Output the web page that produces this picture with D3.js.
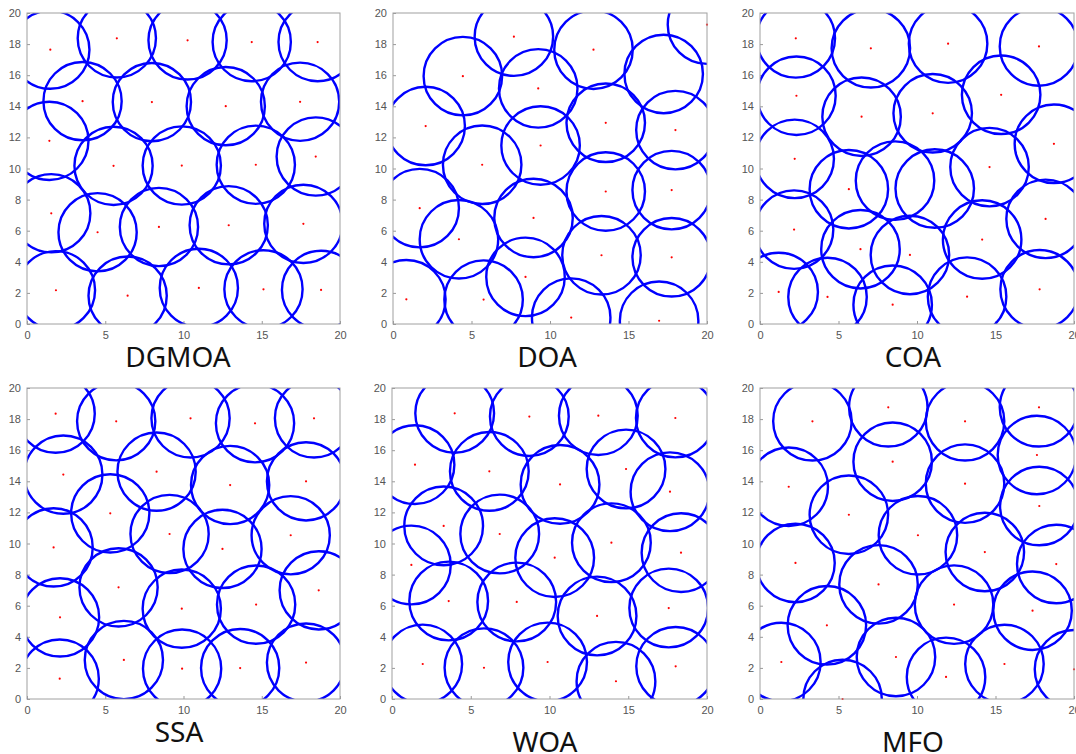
<!DOCTYPE html>
<html>
<head>
<meta charset="utf-8">
<script src="https://cdn.jsdelivr.net/npm/d3@7"></script>
<style>
  html, body { margin: 0; padding: 0; background: #fff; }
  svg { display: block; }
  .tick text { font-family: "Liberation Sans", Arial, sans-serif; font-size: 11px; fill: #555; }
  .title { font-family: "Noto Sans", "DejaVu Sans", sans-serif; font-size: 28px; fill: #111; }
</style>
</head>
<body>
<svg id="chart" width="1076" height="754"></svg>
<script>
// Sensor positions (x, y in the 0..20 field).
const dgmoaNodes = [
  [1.49, 17.64], [5.74, 18.37], [10.26, 18.24], [14.36, 18.13], [18.57, 18.13],
  [3.55, 14.33], [7.98, 14.27], [12.70, 14.01], [17.45, 14.29],
  [1.43, 11.78], [18.45, 10.77], [5.53, 10.17], [9.89, 10.19], [14.62, 10.24],
  [1.55, 7.12], [4.51, 5.90], [8.43, 6.24], [12.89, 6.35], [17.66, 6.44],
  [1.85, 2.17], [6.43, 1.82], [10.98, 2.32], [15.11, 2.23], [18.79, 2.19]
];
const doaNodes = [
  [7.70, 18.48], [12.77, 17.64], [20.0, 19.25], [4.45, 15.94], [9.25, 15.15],
  [2.08, 12.73], [13.55, 12.94], [17.99, 12.47], [5.68, 10.24], [9.40, 11.48],
  [1.70, 7.45], [13.55, 8.52], [17.75, 8.61], [8.95, 6.82], [4.20, 5.45],
  [13.28, 4.42], [17.75, 4.29], [8.44, 3.03], [0.85, 1.59], [5.77, 1.57],
  [11.35, 0.41], [16.95, 0.21]
];
const doaHidden = [[17.24, 16.08]];
const coaNodes = [
  [2.28, 18.37], [7.06, 17.73], [11.98, 18.03], [17.77, 17.85],
  [2.32, 14.68], [15.36, 14.74], [6.47, 13.33], [11.00, 13.55],
  [2.21, 10.62], [18.72, 11.59], [14.62, 10.09], [5.66, 8.67],
  [2.17, 6.07], [18.19, 6.76], [14.15, 5.43], [6.40, 4.81], [9.55, 4.44],
  [1.19, 2.06], [4.30, 1.74], [8.45, 1.24], [13.19, 1.76], [17.81, 2.23]
];
const coaHidden = [[8.60, 9.22], [11.13, 8.71]];
const ssaNodes = [
  [1.83, 18.35], [5.70, 17.86], [10.45, 18.05], [14.57, 17.73], [18.34, 18.05],
  [2.32, 14.43], [8.28, 14.62], [12.98, 13.76], [17.83, 14.00],
  [5.32, 11.94], [9.11, 10.61], [12.49, 9.65], [16.85, 10.53], [1.70, 9.75],
  [5.85, 7.18], [18.64, 6.99], [2.11, 5.25], [9.89, 5.81], [14.64, 6.07],
  [6.19, 2.51], [9.91, 1.95], [13.62, 1.99], [17.83, 2.34], [2.09, 1.31]
];
const woaNodes = [
  [3.98, 18.37], [8.72, 18.16], [13.10, 18.22], [17.99, 18.07],
  [1.46, 15.07], [6.18, 14.64], [10.67, 13.80], [14.86, 14.79], [17.65, 13.33],
  [3.28, 11.13], [6.84, 10.61], [1.23, 8.62], [10.33, 9.09], [13.93, 10.05], [18.35, 9.41],
  [3.60, 6.30], [7.92, 6.24], [13.02, 5.34], [17.57, 5.85],
  [1.95, 2.25], [5.84, 2.01], [9.88, 2.38], [14.22, 1.14], [18.01, 2.10]
];
const mfoNodes = [
  [3.34, 17.86], [8.17, 18.76], [13.06, 17.86], [17.77, 18.76],
  [17.64, 15.69], [8.45, 15.26], [1.83, 13.65], [13.06, 13.85], [17.79, 12.41],
  [5.66, 11.85], [10.06, 10.53], [14.32, 9.45], [18.87, 8.68], [2.26, 8.75],
  [7.55, 7.37], [12.36, 6.07], [17.36, 5.68], [4.26, 4.74],
  [1.36, 2.38], [8.66, 2.70], [11.85, 1.42], [15.57, 2.25], [20.0, 1.91], [5.26, 0.0]
];

const SENSE_RADIUS = 2.5;
const xTicks = [0, 5, 10, 15, 20];
const yTicks = [0, 2, 4, 6, 8, 10, 12, 14, 16, 18, 20];

// Panel layout (pixel boxes of the plot area) + title positions.
const panels = [
  { name: 'DGMOA', nodes: dgmoaNodes, hidden: [], x0: 27,  x1: 340,  y0: 13,  y1: 324, tx: 178, ty: 367 },
  { name: 'DOA',   nodes: doaNodes,   hidden: doaHidden, x0: 393, x1: 707, y0: 13, y1: 324, tx: 547, ty: 367 },
  { name: 'COA',   nodes: coaNodes,   hidden: coaHidden, x0: 760, x1: 1074, y0: 13, y1: 324, tx: 913, ty: 367 },
  { name: 'SSA',   nodes: ssaNodes,   hidden: [], x0: 27,  x1: 340,  y0: 388, y1: 699, tx: 179, ty: 742 },
  { name: 'WOA',   nodes: woaNodes,   hidden: [], x0: 392, x1: 707,  y0: 388, y1: 699, tx: 545, ty: 752 },
  { name: 'MFO',   nodes: mfoNodes,   hidden: [], x0: 760, x1: 1074, y0: 388, y1: 699, tx: 913, ty: 752 }
];

const svg = d3.select('#chart');

panels.forEach((p, i) => {
  const x = d3.scaleLinear().domain([0, 20]).range([p.x0, p.x1]);
  const y = d3.scaleLinear().domain([0, 20]).range([p.y1, p.y0]);
  const g = svg.append('g').attr('class', 'panel');

  g.append('clipPath').attr('id', 'clip' + i)
    .append('rect')
      .attr('x', p.x0).attr('y', p.y0)
      .attr('width', p.x1 - p.x0).attr('height', p.y1 - p.y0);

  // Axes first, marks on top.
  const xAxis = g.append('g')
    .attr('transform', `translate(0,${p.y1})`)
    .call(d3.axisBottom(x).tickValues(xTicks).tickSize(-3).tickPadding(7));
  const yAxis = g.append('g')
    .attr('transform', `translate(${p.x0},0)`)
    .call(d3.axisLeft(y).tickValues(yTicks).tickSize(-3).tickPadding(6));
  [xAxis, yAxis].forEach(a => {
    a.select('.domain').remove();
    a.selectAll('.tick line').attr('stroke', '#999');
  });

  const marks = g.append('g').attr('clip-path', `url(#clip${i})`);
  const centres = p.nodes.concat(p.hidden);

  marks.selectAll('circle.range')
    .data(centres)
    .enter().append('circle')
      .attr('class', 'range')
      .attr('cx', d => x(d[0]))
      .attr('cy', d => y(d[1]))
      .attr('r', x(SENSE_RADIUS) - x(0))
      .attr('fill', 'none')
      .attr('stroke', '#0000ff')
      .attr('stroke-width', 2.4);

  g.selectAll('circle.node')
    .data(p.nodes)
    .enter().append('circle')
      .attr('class', 'node')
      .attr('cx', d => x(d[0]))
      .attr('cy', d => y(d[1]))
      .attr('r', 1.1)
      .attr('fill', '#ff0000');

  // Box.
  g.append('rect')
    .attr('x', p.x0).attr('y', p.y0)
    .attr('width', p.x1 - p.x0).attr('height', p.y1 - p.y0)
    .attr('fill', 'none')
    .attr('stroke', '#a0a0a0')
    .attr('stroke-width', 1);

  g.append('text')
    .attr('class', 'title')
    .attr('x', p.tx).attr('y', p.ty)
    .attr('text-anchor', 'middle')
    .text(p.name);
});
</script>
</body>
</html>
